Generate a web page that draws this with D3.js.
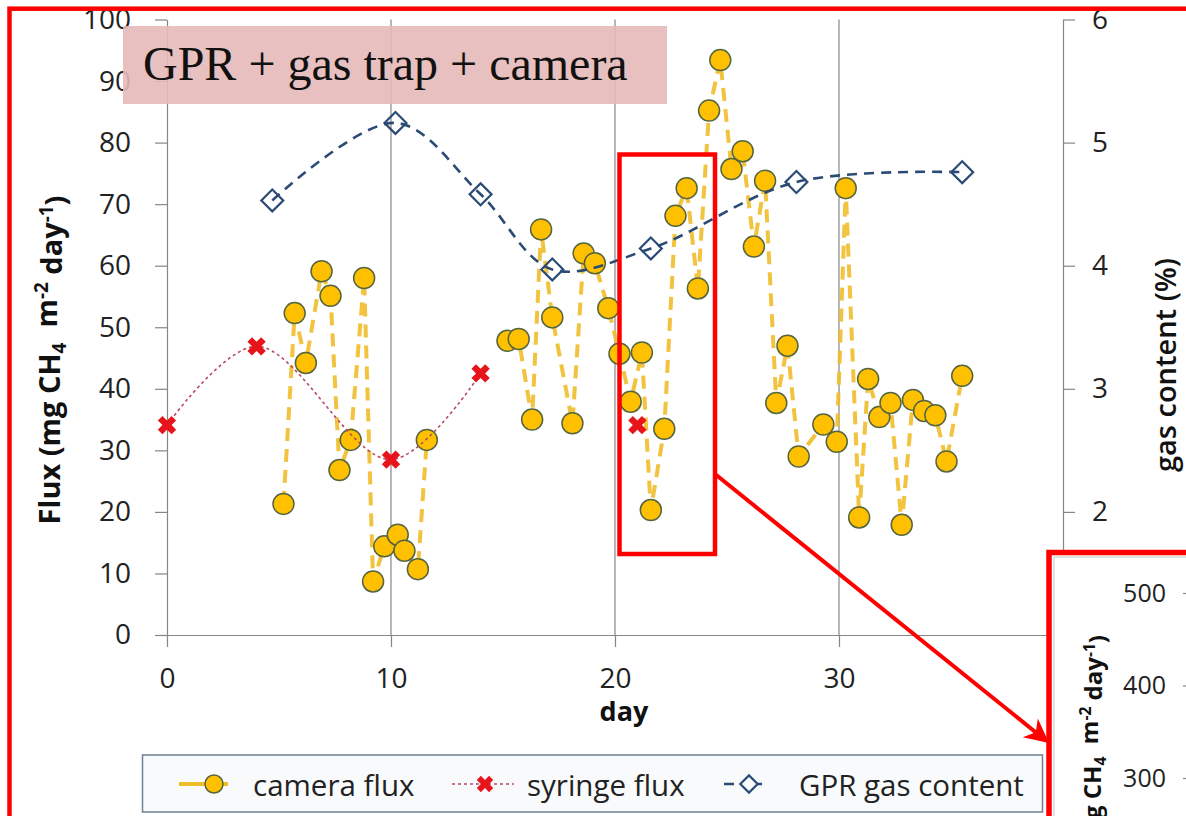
<!DOCTYPE html>
<html>
<head>
<meta charset="utf-8">
<script src="https://cdn.jsdelivr.net/npm/d3@7"></script>
<style>
    body { margin: 0; background: #fff; }
    svg { display: block; }
</style>
</head>
<body>
<script>
// camera flux (mg CH4 m-2 day-1), null = gap in the series
const cameraDay = [5.2, 5.7, 6.2, 6.9, 7.3, 7.7, 8.2, 8.8, 9.2, 9.7, 10.3, 10.6, 11.2, 11.6, null,
    15.2, 15.7, 16.3, 16.7, 17.2, 18.1, 18.6, 19.1, 19.7, 20.2, 20.7, 21.2, 21.6, 22.2, 22.7,
    23.2, 23.7, 24.2, 24.7, 25.2, 25.7, 26.2, 26.7, 27.2, 27.7, 28.2, 29.3, 29.9, 30.3, 30.9,
    31.3, 31.8, 32.3, 32.8, 33.3, 33.8, 34.3, 34.8, 35.5]
const cameraFlux = [21.3, 52.3, 44.2, 59.1, 55.1, 26.8, 31.7, 58, 8.7, 14.4, 16.3, 13.7, 10.7, 31.7, null,
    47.8, 48.1, 35, 65.9, 51.6, 34.4, 62, 60.4, 53.1, 45.7, 37.9, 45.9, 20.3, 33.5, 68.1,
    72.6, 56.3, 85.2, 93.4, 75.7, 78.6, 63.1, 73.8, 37.7, 47, 29, 34.2, 31.4, 72.6, 19.1,
    41.6, 35.4, 37.7, 17.9, 38.2, 36.4, 35.7, 28.2, 42.1]

const syringeDay = [0, 4, 10, 14, null, 21]
const syringeFlux = [34.1, 46.9, 28.5, 42.5, null, 34.1]

// GPR gas content (%), right axis
const gprDay = [4.7, 10.2, 14.0, 17.2, 21.6, 28.1, 35.5]
const gprGas = [4.53, 5.16, 4.58, 3.97, 4.14, 4.68, 4.76]

const fluxTicks = [0, 10, 20, 30, 40, 50, 60, 70, 80, 90, 100]
const gasTicks = [1, 2, 3, 4, 5, 6]
const dayTicks = [0, 10, 20, 30, 40]
const gridDays = [10, 20, 30]
const insetTicks = [300, 400, 500]

const legendItems = ["camera flux", "syringe flux", "GPR gas content"]
const titleText = "GPR + gas trap + camera"

const width = 1186
const height = 816
const font = "'Open Sans', 'Noto Sans', sans-serif"
const axisColor = "#868686"
const gold = "#ffc000"
const navy = "#2b4a74"
const red = "#ff0000"

const svg = d3.select("body").append("svg")
    .attr("width", width)
    .attr("height", height)

const x = d3.scaleLinear().domain([0, 40]).range([167, 1063])
const yL = d3.scaleLinear().domain([0, 100]).range([635, 19.5])
const yR = d3.scaleLinear().domain([1, 6]).range([635, 19.5])

const camera = cameraDay.map((d, i) => ({ day: d, flux: cameraFlux[i] }))
const syringe = syringeDay.map((d, i) => ({ day: d, flux: syringeFlux[i] }))
const gpr = gprDay.map((d, i) => ({ day: d, gas: gprGas[i] }))

// vertical gridlines
svg.append("g")
    .selectAll("line")
    .data(gridDays)
    .join("line")
    .attr("x1", d => x(d)).attr("x2", d => x(d))
    .attr("y1", yL(100)).attr("y2", yL(0))
    .attr("stroke", axisColor)
    .attr("stroke-width", 1.2)

function styleAxis(g, size) {
    g.selectAll("path, line").attr("stroke", axisColor).attr("stroke-width", 1.2)
    g.selectAll("text")
        .attr("fill", "#222")
        .style("font-family", font)
        .style("font-size", size + "px")
}

svg.append("g")
    .attr("transform", "translate(0,635)")
    .call(d3.axisBottom(x).tickValues(dayTicks).tickSize(12).tickSizeOuter(0).tickPadding(21))
    .call(g => styleAxis(g, 28))

svg.append("g")
    .attr("transform", "translate(167,0)")
    .call(d3.axisLeft(yL).tickValues(fluxTicks).tickSize(12).tickSizeOuter(0).tickPadding(24))
    .call(g => styleAxis(g, 28))

svg.append("g")
    .attr("transform", "translate(1063,0)")
    .call(d3.axisRight(yR).tickValues(gasTicks).tickFormat(d3.format("d"))
        .tickSize(12).tickSizeOuter(0).tickPadding(17))
    .call(g => styleAxis(g, 28))

// axis titles
const fluxLabel = svg.append("text")
    .attr("transform", "translate(60,360) rotate(-90)")
    .attr("text-anchor", "middle")
    .style("font-family", font)
    .style("font-size", "29px")
    .style("font-weight", "bold")
    .attr("fill", "#111")
unitText(fluxLabel)

svg.append("text")
    .attr("transform", "translate(1176,365) rotate(-90)")
    .attr("text-anchor", "middle")
    .style("font-family", font)
    .style("font-size", "29px")
    .style("font-weight", "600")
    .attr("fill", "#111")
    .text("gas content (%)")

svg.append("text")
    .attr("x", 624).attr("y", 721)
    .attr("text-anchor", "middle")
    .style("font-family", font)
    .style("font-size", "27px")
    .style("font-weight", "bold")
    .attr("fill", "#111")
    .text("day")

function unitText(t) {
    t.append("tspan").text("Flux (mg CH")
    t.append("tspan").attr("dy", "0.3em").style("font-size", "65%").text("4")
    t.append("tspan").attr("dy", "-0.3em").text("\u00a0 m")
    t.append("tspan").attr("dy", "-0.45em").style("font-size", "65%").text("-2")
    t.append("tspan").attr("dy", "0.45em").text(" day")
    t.append("tspan").attr("dy", "-0.45em").style("font-size", "65%").text("-1")
    t.append("tspan").attr("dy", "0.45em").text(")")
}

// camera flux series
svg.append("path")
    .datum(camera)
    .attr("fill", "none")
    .attr("stroke", "#f0bd2a")
    .attr("stroke-width", 4)
    .attr("stroke-dasharray", "13,8")
    .attr("opacity", 0.9)
    .attr("d", d3.line()
        .defined(d => d.flux != null)
        .x(d => x(d.day))
        .y(d => yL(d.flux)))

svg.append("g")
    .selectAll("circle")
    .data(camera.filter(d => d.flux != null))
    .join("circle")
    .attr("cx", d => x(d.day))
    .attr("cy", d => yL(d.flux))
    .attr("r", 10.5)
    .attr("fill", gold)
    .attr("stroke", "#55663f")
    .attr("stroke-width", 1.5)

// syringe flux series
svg.append("path")
    .datum(syringe)
    .attr("fill", "none")
    .attr("stroke", "#b84a62")
    .attr("stroke-width", 1.6)
    .attr("stroke-dasharray", "3,3")
    .attr("d", d3.line()
        .defined(d => d.flux != null)
        .curve(d3.curveCatmullRom.alpha(0.5))
        .x(d => x(d.day))
        .y(d => yL(d.flux)))

const cross = d3.symbol().type(d3.symbolCross).size(210)
svg.append("g")
    .selectAll("path")
    .data(syringe.filter(d => d.flux != null))
    .join("path")
    .attr("transform", d => `translate(${x(d.day)},${yL(d.flux)}) rotate(45)`)
    .attr("d", cross)
    .attr("fill", "#e8141c")

// GPR gas content series
svg.append("path")
    .datum(gpr)
    .attr("fill", "none")
    .attr("stroke", navy)
    .attr("stroke-width", 2.6)
    .attr("stroke-dasharray", "10,7")
    .attr("d", d3.line()
        .curve(d3.curveCatmullRom.alpha(0.5))
        .x(d => x(d.day))
        .y(d => yR(d.gas)))

const diamond = d3.symbol().type(d3.symbolSquare).size(240)
svg.append("g")
    .selectAll("path")
    .data(gpr)
    .join("path")
    .attr("transform", d => `translate(${x(d.day)},${yR(d.gas)}) rotate(45)`)
    .attr("d", diamond)
    .attr("fill", "none")
    .attr("stroke", navy)
    .attr("stroke-width", 2.2)

// title box
svg.append("rect")
    .attr("x", 123).attr("y", 26)
    .attr("width", 544).attr("height", 78)
    .attr("fill", "#e6b9b8")
    .attr("opacity", 0.9)

svg.append("text")
    .attr("x", 143).attr("y", 80)
    .style("font-family", "'Liberation Serif', 'DejaVu Serif', serif")
    .style("font-size", "48px")
    .attr("fill", "#111")
    .text(titleText)

// legend
const legend = svg.append("g")
legend.append("rect")
    .attr("x", 142.5).attr("y", 755)
    .attr("width", 900).attr("height", 57)
    .attr("fill", "#f8fafc")
    .attr("stroke", "#6f8090")
    .attr("stroke-width", 1.5)

const ly = 784
legend.append("line")
    .attr("x1", 179).attr("x2", 228).attr("y1", ly).attr("y2", ly)
    .attr("stroke", "#f0bd2a").attr("stroke-width", 4)
legend.append("circle")
    .attr("cx", 214).attr("cy", ly).attr("r", 9)
    .attr("fill", gold).attr("stroke", "#55663f").attr("stroke-width", 1.5)

legend.append("line")
    .attr("x1", 452).attr("x2", 514).attr("y1", ly).attr("y2", ly)
    .attr("stroke", "#b84a62").attr("stroke-width", 1.6).attr("stroke-dasharray", "3,3")
legend.append("path")
    .attr("transform", `translate(485,${ly}) rotate(45)`)
    .attr("d", d3.symbol().type(d3.symbolCross).size(170))
    .attr("fill", "#e8141c")

legend.append("line")
    .attr("x1", 724).attr("x2", 771).attr("y1", ly).attr("y2", ly)
    .attr("stroke", navy).attr("stroke-width", 2.6).attr("stroke-dasharray", "10,18")
legend.append("path")
    .attr("transform", `translate(749,${ly}) rotate(45)`)
    .attr("d", d3.symbol().type(d3.symbolSquare).size(150))
    .attr("fill", "#f8fafc").attr("stroke", navy).attr("stroke-width", 2.2)

legend.selectAll("text.item")
    .data(legendItems)
    .join("text")
    .attr("class", "item")
    .attr("x", (d, i) => [253, 527, 799][i])
    .attr("y", 796)
    .style("font-family", font)
    .style("font-size", "29.5px")
    .attr("fill", "#222")
    .text(d => d)

// highlight box and arrow
svg.append("rect")
    .attr("x", 619.5).attr("y", 154.5)
    .attr("width", 95.5).attr("height", 399.5)
    .attr("fill", "none")
    .attr("stroke", red)
    .attr("stroke-width", 4.5)

const ax1 = 715, ay1 = 474, ax2 = 1049, ay2 = 743
const ang = Math.atan2(ay2 - ay1, ax2 - ax1) * 180 / Math.PI
svg.append("line")
    .attr("x1", ax1).attr("y1", ay1)
    .attr("x2", ax2 - 14 * Math.cos(ang * Math.PI / 180))
    .attr("y2", ay2 - 14 * Math.sin(ang * Math.PI / 180))
    .attr("stroke", red)
    .attr("stroke-width", 4)
svg.append("path")
    .attr("transform", `translate(${ax2},${ay2}) rotate(${ang})`)
    .attr("d", "M0,0L-24,-12L-17,0L-24,12Z")
    .attr("fill", red)

// zoomed inset (cut off at the right/bottom edge)
const inset = svg.append("g")
inset.append("rect")
    .attr("x", 1049).attr("y", 552.5)
    .attr("width", 300).attr("height", 400)
    .attr("fill", "#fff")
    .attr("stroke", red)
    .attr("stroke-width", 5.5)
inset.append("rect")
    .attr("x", 1054).attr("y", 557)
    .attr("width", 300).attr("height", 400)
    .attr("fill", "none")
    .attr("stroke", "#c8c8c8")
    .attr("stroke-width", 1)

const yInset = d3.scaleLinear().domain([300, 500]).range([778, 593])
inset.append("g")
    .attr("transform", "translate(1195,0)")
    .call(d3.axisLeft(yInset).tickValues(insetTicks).tickSize(12).tickSizeOuter(0).tickPadding(17))
    .call(g => styleAxis(g, 25))

const insetLabel = inset.append("text")
    .attr("transform", "translate(1101,635) rotate(-90)")
    .attr("text-anchor", "end")
    .style("font-family", font)
    .style("font-size", "24px")
    .style("font-weight", "bold")
    .attr("fill", "#111")
unitText(insetLabel)

// outer frame
svg.append("rect")
    .attr("x", 9.5).attr("y", 8.7)
    .attr("width", 1300).attr("height", 1000)
    .attr("fill", "none")
    .attr("stroke", red)
    .attr("stroke-width", 4.5)
</script>
</body>
</html>
